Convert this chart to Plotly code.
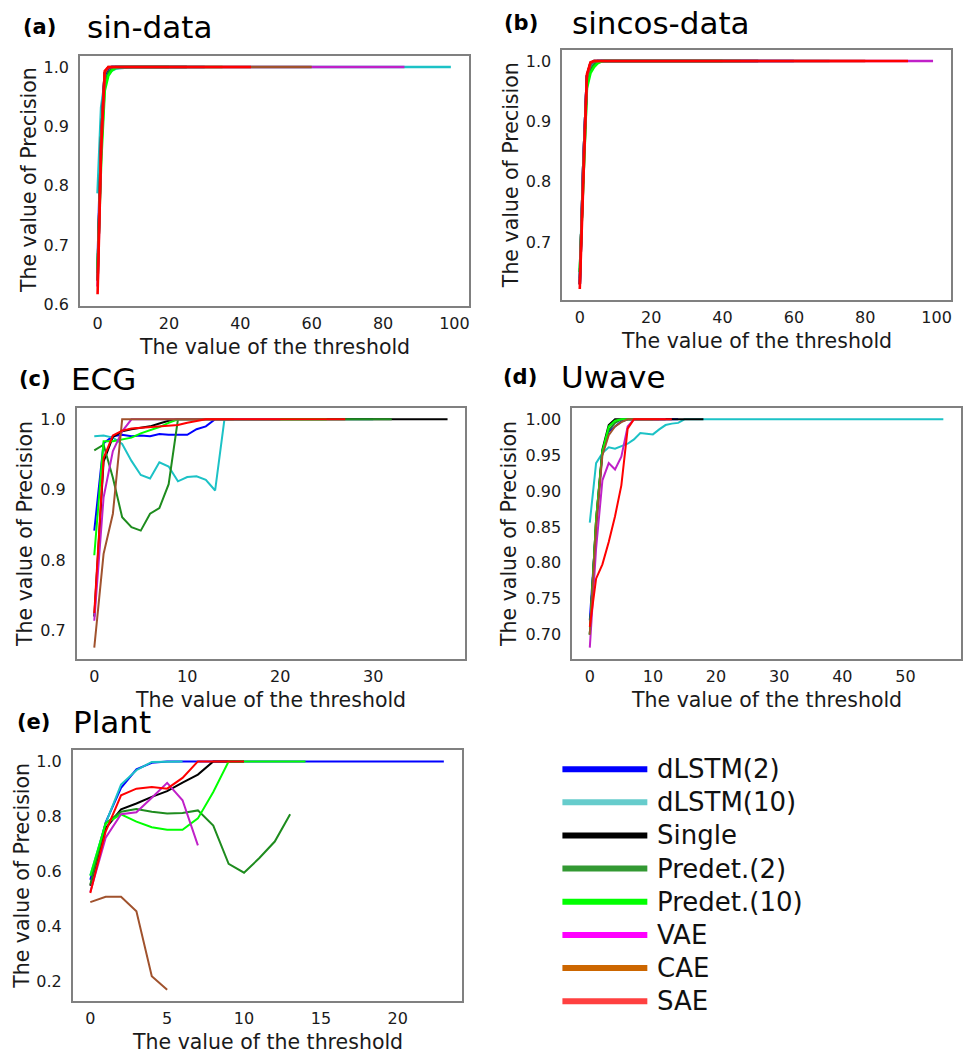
import plotly.graph_objects as go

# ---------------- data ----------------
methods = ["dLSTM(2)", "dLSTM(10)", "Single", "Predet.(2)", "Predet.(10)", "VAE", "CAE", "SAE"]
line_colors = ["#0000ff", "#1cc2c6", "#000000", "#1e8c1e", "#00ff00", "#c020c8", "#a0522d", "#ff0000"]
legend_colors = ["#0000ff", "#66cccc", "#000000", "#339933", "#00ff00", "#ff00ff", "#cc6600", "#ff4040"]

panel_tags = ["(a)", "(b)", "(c)", "(d)", "(e)"]
panel_names = ["sin-data", "sincos-data", "ECG", "Uwave", "Plant"]

# (a) sin-data : threshold values and precision per method
sin_x = {
    "dLSTM(2)":    [0, 1, 2, 3, 4, 5, 30],
    "dLSTM(10)":   [0, 1, 2, 3, 4, 5, 6, 8, 10, 99],
    "Single":      [0, 1, 2, 3, 4, 25],
    "Predet.(2)":  [0, 1, 2, 3, 4, 5, 20],
    "Predet.(10)": [0, 1, 2, 3, 4, 5, 6, 35],
    "VAE":         [0, 1, 2, 3, 4, 86],
    "CAE":         [0, 1, 2, 3, 4, 60],
    "SAE":         [0, 1, 2, 3, 43],
}
sin_y = {
    "dLSTM(2)":    [0.66, 0.90, 0.985, 0.997, 1.0, 1.0, 1.0],
    "dLSTM(10)":   [0.787, 0.932, 0.975, 0.988, 0.994, 0.997, 0.998, 0.999, 1.0, 1.0],
    "Single":      [0.64, 0.88, 0.99, 0.998, 1.0, 1.0],
    "Predet.(2)":  [0.653, 0.86, 0.97, 0.99, 0.997, 1.0, 1.0],
    "Predet.(10)": [0.66, 0.84, 0.96, 0.985, 0.994, 0.998, 1.0, 1.0],
    "VAE":         [0.63, 0.87, 0.99, 0.999, 1.0, 1.0],
    "CAE":         [0.64, 0.88, 0.99, 1.0, 1.0, 1.0],
    "SAE":         [0.617, 0.86, 0.993, 1.0, 1.0],
}

# (b) sincos-data
sincos_x = {
    "dLSTM(2)":    [0, 1, 2, 3, 4, 5, 60],
    "dLSTM(10)":   [0, 1, 2, 3, 4, 5, 70],
    "Single":      [0, 1, 2, 3, 4, 50],
    "Predet.(2)":  [0, 1, 2, 3, 4, 5, 6, 40],
    "Predet.(10)": [0, 1, 2, 3, 4, 5, 6, 7, 45],
    "VAE":         [0, 1, 2, 3, 4, 99],
    "CAE":         [0, 1, 2, 3, 4, 80],
    "SAE":         [0, 1, 2, 3, 4, 92],
}
sincos_y = {
    "dLSTM(2)":    [0.63, 0.83, 0.975, 0.995, 0.999, 1.0, 1.0],
    "dLSTM(10)":   [0.64, 0.83, 0.97, 0.992, 0.998, 1.0, 1.0],
    "Single":      [0.63, 0.83, 0.975, 0.996, 1.0, 1.0],
    "Predet.(2)":  [0.65, 0.82, 0.96, 0.985, 0.994, 0.998, 1.0, 1.0],
    "Predet.(10)": [0.65, 0.82, 0.955, 0.98, 0.99, 0.996, 0.999, 1.0, 1.0],
    "VAE":         [0.63, 0.83, 0.975, 0.996, 1.0, 1.0],
    "CAE":         [0.63, 0.83, 0.975, 0.997, 1.0, 1.0],
    "SAE":         [0.622, 0.82, 0.978, 0.998, 1.0, 1.0],
}

# (c) ECG
ecg_x = {
    "dLSTM(2)":    [0, 1, 2, 3, 4, 5, 6, 7, 8, 9, 10, 11, 12, 13, 20],
    "dLSTM(10)":   [0, 1, 2, 3, 4, 5, 6, 7, 8, 9, 10, 11, 12, 13, 14, 30],
    "Single":      [0, 1, 2, 3, 4, 5, 6, 7, 8, 9, 38],
    "Predet.(2)":  [0, 1, 2, 3, 4, 5, 6, 7, 8, 9, 32],
    "Predet.(10)": [0, 1, 2, 3, 4, 5, 6, 7, 8, 9, 25],
    "VAE":         [0, 1, 2, 3, 4, 20],
    "CAE":         [0, 1, 2, 3, 15],
    "SAE":         [0, 1, 2, 3, 4, 5, 6, 7, 8, 9, 10, 11, 12, 27],
}
ecg_y = {
    "dLSTM(2)":    [0.842, 0.966, 0.976, 0.978, 0.976, 0.977, 0.976, 0.979, 0.978, 0.978, 0.978, 0.986, 0.99, 1.0, 1.0],
    "dLSTM(10)":   [0.976, 0.977, 0.974, 0.965, 0.941, 0.921, 0.916, 0.939, 0.933, 0.912, 0.918, 0.919, 0.914, 0.899, 1.0, 1.0],
    "Single":      [0.72, 0.94, 0.975, 0.983, 0.986, 0.988, 0.99, 0.994, 0.998, 1.0, 1.0],
    "Predet.(2)":  [0.956, 0.964, 0.917, 0.861, 0.847, 0.842, 0.866, 0.874, 0.908, 1.0, 1.0],
    "Predet.(10)": [0.807, 0.969, 0.969, 0.971, 0.974, 0.98, 0.984, 0.989, 0.995, 1.0, 1.0],
    "VAE":         [0.714, 0.889, 0.955, 0.983, 1.0, 1.0],
    "CAE":         [0.676, 0.809, 0.866, 1.0, 1.0],
    "SAE":         [0.725, 0.945, 0.977, 0.984, 0.987, 0.988, 0.989, 0.99, 0.991, 0.992, 0.995, 0.998, 1.0, 1.0],
}

# (d) Uwave
uwave_x = {
    "dLSTM(2)":    [0, 1, 2, 3, 4, 5, 6, 14],
    "dLSTM(10)":   [0, 1, 2, 3, 4, 5, 6, 7, 8, 9, 10, 11, 12, 13, 14, 15, 56],
    "Single":      [0, 1, 2, 3, 4, 18],
    "Predet.(2)":  [0, 1, 2, 3, 4, 5, 12],
    "Predet.(10)": [0, 1, 2, 3, 4, 5, 10],
    "VAE":         [0, 1, 2, 3, 4, 5, 6, 7, 12],
    "CAE":         [0, 1, 2, 3, 4, 5, 6, 11],
    "SAE":         [0, 1, 2, 3, 4, 5, 6, 7, 13],
}
uwave_y = {
    "dLSTM(2)":    [0.72, 0.85, 0.955, 0.983, 0.99, 0.997, 1.0, 1.0],
    "dLSTM(10)":   [0.856, 0.939, 0.953, 0.961, 0.959, 0.962, 0.966, 0.972, 0.981, 0.98, 0.979, 0.986, 0.992, 0.994, 0.995, 1.0, 1.0],
    "Single":      [0.70, 0.86, 0.958, 0.992, 1.0, 1.0],
    "Predet.(2)":  [0.70, 0.86, 0.955, 0.985, 0.995, 1.0, 1.0],
    "Predet.(10)": [0.70, 0.86, 0.955, 0.99, 0.998, 1.0, 1.0],
    "VAE":         [0.682, 0.82, 0.915, 0.939, 0.930, 0.948, 0.99, 1.0, 1.0],
    "CAE":         [0.70, 0.85, 0.95, 0.978, 0.99, 0.996, 1.0, 1.0],
    "SAE":         [0.711, 0.778, 0.798, 0.829, 0.865, 0.908, 0.987, 1.0, 1.0],
}

# (e) Plant
plant_x = {
    "dLSTM(2)":    [0, 1, 2, 3, 4, 5, 23],
    "dLSTM(10)":   [0, 1, 2, 3, 4, 5, 6],
    "Single":      [0, 1, 2, 3, 4, 5, 6, 7, 8, 9, 10],
    "Predet.(2)":  [0, 1, 2, 3, 4, 5, 6, 7, 8, 9, 10, 11, 12, 13],
    "Predet.(10)": [0, 1, 2, 3, 4, 5, 6, 7, 8, 9, 14],
    "VAE":         [0, 1, 2, 3, 4, 5, 6, 7],
    "CAE":         [0, 1, 2, 3, 4, 5],
    "SAE":         [0, 1, 2, 3, 4, 5, 6, 7, 10],
}
plant_y = {
    "dLSTM(2)":    [0.57, 0.779, 0.904, 0.971, 0.995, 1.0, 1.0],
    "dLSTM(10)":   [0.586, 0.775, 0.916, 0.968, 0.998, 0.999, 1.0],
    "Single":      [0.548, 0.757, 0.826, 0.847, 0.871, 0.892, 0.923, 0.952, 1.0, 1.0, 1.0],
    "Predet.(2)":  [0.552, 0.775, 0.817, 0.827, 0.817, 0.811, 0.813, 0.822, 0.767, 0.628, 0.596, 0.649, 0.709, 0.808],
    "Predet.(10)": [0.585, 0.775, 0.808, 0.781, 0.761, 0.752, 0.752, 0.793, 0.889, 1.0, 1.0],
    "VAE":         [0.526, 0.723, 0.808, 0.815, 0.868, 0.922, 0.859, 0.695],
    "CAE":         [0.489, 0.508, 0.508, 0.456, 0.22, 0.171],
    "SAE":         [0.522, 0.745, 0.877, 0.901, 0.907, 0.901, 0.94, 1.0, 1.0],
}

panels_x = [sin_x, sincos_x, ecg_x, uwave_x, plant_x]
panels_y = [sin_y, sincos_y, ecg_y, uwave_y, plant_y]

# ---------------- layout geometry (pixels) ----------------
W, H = 965, 1059
# plot boxes: left, right, top, bottom (px)
boxes = [
    (80.0, 469.0, 56.0, 308.0),
    (562.7, 951.7, 50.0, 302.7),
    (76.7, 465.7, 411.0, 664.0),
    (572.7, 962.0, 411.0, 664.0),
    (72.7, 462.0, 755.7, 1008.7),
]
x_dticks = [20, 20, 10, 10, 5]
y_dticks = [0.1, 0.1, 0.1, 0.05, 0.2]
y_formats = [".1f", ".1f", ".1f", ".2f", ".1f"]
line_widths = [2.6, 2.6, 2.0, 2.0, 2.0]

# title positions (px): tag x, name x, y center
title_pos = [(20.7, 85.0, 27.0), (502.7, 570.7, 23.0), (16.7, 69.3, 382.0), (501.7, 560.0, 380.0), (15.0, 71.0, 727.0)]
xtitle_y = [350.0, 344.0, 705.0, 705.0, 1050.0]
ytitle_pos = [(28.5, 181.0), (511.0, 176.0), (25.5, 537.5), (510.0, 537.5), (22.0, 882.5)]

FONT = "DejaVu Sans"
TXT = "#1a1a1a"


def px_x(v):
    return v / W


def px_y(v):
    return 1 - v / H


fig = go.Figure()
layout = dict(
    width=W, height=H, margin=dict(l=0, r=0, t=0, b=0),
    paper_bgcolor="white", plot_bgcolor="white", showlegend=False,
    font=dict(family=FONT, color=TXT),
)
annotations = []
shapes = []

for i in range(5):
    xa = "x" if i == 0 else f"x{i+1}"
    ya = "y" if i == 0 else f"y{i+1}"
    xs, ys = panels_x[i], panels_y[i]
    allx = [v for m in methods for v in xs[m]]
    ally = [v for m in methods for v in ys[m]]
    xmin, xmax = min(allx), max(allx)
    ymin, ymax = min(ally), max(ally)
    xpad = 0.05 * (xmax - xmin)
    ypad = 0.05 * (ymax - ymin)
    for m, c in zip(methods, line_colors):
        fig.add_trace(go.Scatter(x=xs[m], y=ys[m], mode="lines", name=m,
                                 line=dict(color=c, width=line_widths[i]),
                                 xaxis=xa, yaxis=ya, showlegend=False))
    l, r, t, b = boxes[i]
    axcommon = dict(showgrid=False, zeroline=False, showline=True, mirror=True,
                    linecolor="#808080", linewidth=1.5, ticks="",
                    tickfont=dict(family=FONT, size=16, color=TXT))
    layout["xaxis" if i == 0 else f"xaxis{i+1}"] = dict(
        domain=[px_x(l), px_x(r)], anchor=ya, range=[xmin - xpad, xmax + xpad],
        dtick=x_dticks[i], tick0=0, ticklabelstandoff=2, **axcommon)
    layout["yaxis" if i == 0 else f"yaxis{i+1}"] = dict(
        domain=[px_y(b), px_y(t)], anchor=xa, range=[ymin - ypad, ymax + ypad],
        dtick=y_dticks[i], tick0=0, tickformat=y_formats[i], ticklabelstandoff=6, **axcommon)

    tx, nx, ty = title_pos[i]
    annotations.append(dict(text="<b>" + panel_tags[i] + "</b>", x=px_x(tx), y=px_y(ty),
                            xref="paper", yref="paper", xanchor="left", yanchor="middle",
                            showarrow=False, font=dict(family=FONT, size=21, color="#000")))
    annotations.append(dict(text=panel_names[i], x=px_x(nx), y=px_y(ty),
                            xref="paper", yref="paper", xanchor="left", yanchor="middle",
                            showarrow=False, font=dict(family=FONT, size=31, color="#000")))
    annotations.append(dict(text="The value of the threshold", x=px_x((l + r) / 2), y=px_y(xtitle_y[i]),
                            xref="paper", yref="paper", xanchor="center", yanchor="middle",
                            showarrow=False, font=dict(family=FONT, size=20.5, color=TXT)))
    yx, yy = ytitle_pos[i]
    annotations.append(dict(text="The value of Precision", x=px_x(yx), y=px_y(yy),
                            xref="paper", yref="paper", xanchor="center", yanchor="middle",
                            textangle=-90, showarrow=False, font=dict(family=FONT, size=20.5, color=TXT)))

# legend (drawn manually to match long thick swatches)
leg_x0, leg_x1, leg_tx = 563.0, 648.0, 656.0
leg_y0, leg_dy = 775.0, 33.4
for k, (m, c) in enumerate(zip(methods, legend_colors)):
    yy = leg_y0 + k * leg_dy
    shapes.append(dict(type="line", xref="paper", yref="paper",
                       x0=px_x(leg_x0), x1=px_x(leg_x1), y0=px_y(yy), y1=px_y(yy),
                       line=dict(color=c, width=6)))
    annotations.append(dict(text=m, x=px_x(leg_tx), y=px_y(yy), xref="paper", yref="paper",
                            xanchor="left", yanchor="middle", showarrow=False,
                            font=dict(family=FONT, size=26, color="#111")))

layout["annotations"] = annotations
layout["shapes"] = shapes
fig.update_layout(**layout)
fig.write_html("out.html")
